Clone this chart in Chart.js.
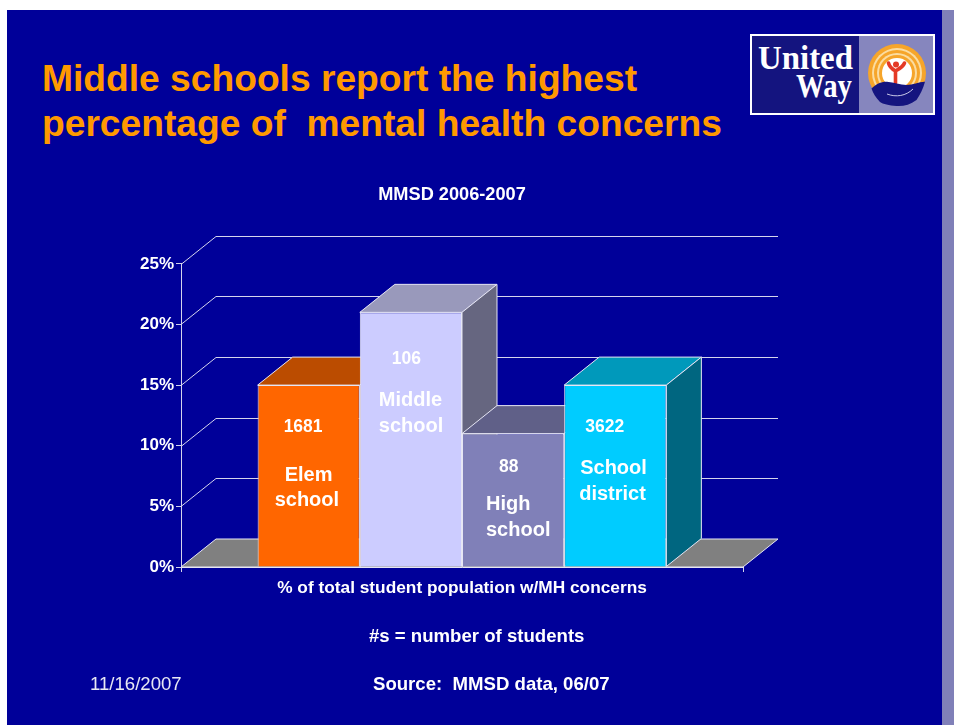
<!DOCTYPE html>
<html lang="en">
<head>
<meta charset="utf-8">
<title>Middle schools report the highest percentage of mental health concerns</title>
<script src="https://cdn.jsdelivr.net/npm/chart.js@4/dist/chart.umd.js"></script>
<style>
  html, body { margin: 0; padding: 0; background: #fff; }
  body { width: 954px; height: 725px; overflow: hidden; position: relative; font-family: "Liberation Sans", Arial, sans-serif; }
  #slide { position: absolute; left: 7px; top: 10px; width: 935px; height: 715px; background: #000099; }
  #strip { position: absolute; left: 942px; top: 10px; width: 12px; height: 715px; background: #8080b8; }
  #chart { position: absolute; left: 0; top: 0; }
  .t { position: absolute; white-space: pre; color: #fff; }
  #headline { left: 42px; top: 56px; font-size: 37.2px; font-weight: bold; line-height: 45px; color: #ff9900; }
  .note { font-size: 18.6px; font-weight: bold; line-height: 20px; }
  #logo { position: absolute; left: 750px; top: 34px; }
</style>
</head>
<body>
<div id="slide"></div>
<div id="strip"></div>
<div class="t" id="headline">Middle schools report the highest
percentage of  mental health concerns</div>

<svg id="logo" width="185" height="81" viewBox="0 0 185 81" xmlns="http://www.w3.org/2000/svg">
  <defs>
    <clipPath id="rainbow"><rect x="110" y="0" width="75" height="54"/></clipPath>
  </defs>
  <rect x="0" y="0" width="185" height="81" fill="#fff"/>
  <rect x="2" y="2" width="181" height="77" fill="#8686be"/>
  <rect x="2" y="2" width="107" height="77" fill="#14147f"/>
  <text x="8" y="35" font-family="Liberation Serif, serif" font-weight="bold" font-size="33" fill="#fff" textLength="95" lengthAdjust="spacingAndGlyphs">United</text>
  <text x="46" y="63" font-family="Liberation Serif, serif" font-weight="bold" font-size="33" fill="#fff" textLength="56" lengthAdjust="spacingAndGlyphs">Way</text>
  <g clip-path="url(#rainbow)">
    <circle cx="147" cy="39" r="29" fill="#f6a52a"/>
    <circle cx="147" cy="39" r="25" fill="#fbdca0"/>
    <circle cx="147" cy="39" r="23" fill="#f6a52a"/>
    <circle cx="147" cy="39" r="20" fill="#fbdca0"/>
    <circle cx="147" cy="39" r="18" fill="#f6a52a"/>
    <circle cx="147" cy="39" r="15" fill="#fff"/>
  </g>
  <path d="M145.5 37 L145.5 49 M145.5 37 C142 35 139.5 33 138.5 29 M145.5 37 C149 35 153 33 154.5 29" stroke="#e43a26" stroke-width="3.6" stroke-linecap="round" fill="none"/>
  <circle cx="146" cy="30.5" r="3" fill="#e43a26"/>
  <path d="M121.5 54.5 C126 50 131 47.5 137 47.7 C144 48 150 51 156.5 51 C163 51 169 47.5 175 47.7 C173 55 170 61 166.5 66 C160 71 153 72.5 146.5 72 C139 71.5 133 70 130 68 C126 64 123 59 121.5 54.5 Z" fill="#14147f"/>
  <path d="M137 60 C146 63.5 156 62 163 55" stroke="#c8c8e8" stroke-width="1" fill="none"/>
</svg>

<canvas id="chart" width="904" height="725"></canvas>

<div class="t note" id="foot1" style="left:369px;top:626px;">#s = number of students</div>
<div class="t note" id="foot2" style="left:373px;top:674px;">Source:  MMSD data, 06/07</div>
<div class="t" id="stamp" style="left:90px;top:674px;font-size:18.6px;line-height:20px;color:#e8e8f4;">11/16/2007</div>

<script>
// Share of students with mental health concerns, by school level (percent)
const groupLabel = ['% of total student population w/MH concerns'];
const schoolTypes = ['Elem school', 'Middle school', 'High school', 'School district'];
const percentValues = [15, 21, 11, 15];
const studentCounts = ['1681', '106', '88', '3622'];
const percentTicks = [0, 5, 10, 15, 20, 25];

// Face colours for each column: front, top, side
const frontColors = ['#ff6600', '#ccccff', '#8080b8', '#00ccff'];
const topColors = ['#bb4c00', '#9999bb', '#606088', '#0099bb'];
const sideColors = ['#994000', '#666680', '#505070', '#006680'];

const lineColor = '#d4d4ec';
const edgeColor = '#e6e6f4';
const depthX = 35;
const depthY = 28;
const titleShift = 20;

// Where each column's captions sit, relative to its top-left baseline corner
const captionSpots = [
  { count: [26, -139], lines: [[27, -91], [17, -66]] },
  { count: [32, -207], lines: [[19, -166], [19, -140]] },
  { count: [37, -99], lines: [[24, -62], [24, -36]] },
  { count: [21, -139], lines: [[16, -98], [15, -72]] }
];

function poly(ctx, pts, fill, stroke) {
  ctx.beginPath();
  pts.forEach((p, i) => (i ? ctx.lineTo(p[0], p[1]) : ctx.moveTo(p[0], p[1])));
  ctx.closePath();
  if (fill) { ctx.fillStyle = fill; ctx.fill(); }
  if (stroke) { ctx.strokeStyle = stroke; ctx.lineWidth = 1; ctx.stroke(); }
}

// Gives the flat chart its receding back wall, floor and column depth
const depthPlugin = {
  id: 'depth',
  afterLayout(chart) {
    // Centre the heading over the slide's content column rather than the plot
    chart.titleBlock.left += titleShift;
    chart.titleBlock.right += titleShift;
  },
  beforeDatasetsDraw(chart) {
    const { ctx, chartArea: a, scales: { y } } = chart;
    ctx.save();
    ctx.lineWidth = 1;
    ctx.strokeStyle = lineColor;
    percentTicks.forEach(v => {
      if (v === 0) return;
      const py = Math.round(y.getPixelForValue(v)) + 0.5;
      ctx.beginPath();
      ctx.moveTo(a.left, py);
      ctx.lineTo(a.left + depthX, py - depthY);
      ctx.lineTo(a.right + depthX, py - depthY);
      ctx.stroke();
    });
    const base = y.getPixelForValue(0);
    poly(ctx, [[a.left, base], [a.left + depthX, base - depthY], [a.right + depthX, base - depthY], [a.right, base]], '#808080', edgeColor);
    percentValues.forEach((_, i) => {
      const bar = chart.getDatasetMeta(i).data[0];
      const l = bar.x - bar.width / 2, r = bar.x + bar.width / 2, t = bar.y, b = bar.base;
      poly(ctx, [[l, t], [l + depthX, t - depthY], [r + depthX, t - depthY], [r, t]], topColors[i], edgeColor);
      poly(ctx, [[r, t], [r + depthX, t - depthY], [r + depthX, b - depthY], [r, b]], sideColors[i], edgeColor);
    });
    ctx.restore();
  },
  afterDatasetsDraw(chart) {
    const { ctx } = chart;
    ctx.save();
    ctx.fillStyle = '#ffffff';
    ctx.textAlign = 'left';
    ctx.textBaseline = 'middle';
    percentValues.forEach((_, i) => {
      const bar = chart.getDatasetMeta(i).data[0];
      const l = bar.x - bar.width / 2, b = bar.base;
      const spot = captionSpots[i];
      ctx.font = 'bold 17.5px "Liberation Sans", Arial, sans-serif';
      ctx.fillText(studentCounts[i], l + spot.count[0], b + spot.count[1]);
      ctx.font = 'bold 20px "Liberation Sans", Arial, sans-serif';
      schoolTypes[i].split(' ').forEach((word, k) => {
        ctx.fillText(word, l + spot.lines[k][0], b + spot.lines[k][1]);
      });
    });
    ctx.restore();
  }
};

new Chart(document.getElementById('chart'), {
  type: 'bar',
  plugins: [depthPlugin],
  data: {
    labels: groupLabel,
    datasets: schoolTypes.map((name, i) => ({
      label: name,
      data: [percentValues[i]],
      backgroundColor: frontColors[i],
      borderColor: edgeColor,
      borderWidth: 1,
      categoryPercentage: 408 / 561,
      barPercentage: 1
    }))
  },
  options: {
    responsive: false,
    animation: false,
    layout: { padding: { left: 121, right: 161, top: 0, bottom: 118 } },
    plugins: {
      legend: { display: false },
      tooltip: { enabled: false },
      title: {
        display: true,
        text: 'MMSD 2006-2007',
        color: '#ffffff',
        font: { family: '"Liberation Sans", Arial, sans-serif', size: 18.2, weight: 'bold' },
        padding: { top: 184, bottom: 58 }
      }
    },
    scales: {
      x: {
        grid: { drawOnChartArea: false, drawTicks: true, tickLength: 5, color: lineColor },
        border: { color: edgeColor },
        ticks: {
          color: '#ffffff',
          padding: 6,
          maxRotation: 0,
          font: { family: '"Liberation Sans", Arial, sans-serif', size: 17.3, weight: 'bold' }
        },
        afterFit(s) { s.height = 40; }
      },
      y: {
        min: 0,
        max: 25,
        grid: { drawOnChartArea: false, drawTicks: true, tickLength: 5, color: lineColor },
        border: { color: lineColor },
        afterBuildTicks(s) { s.ticks = percentTicks.map(value => ({ value })); },
        ticks: {
          color: '#ffffff',
          padding: 2,
          callback: v => v + '%',
          font: { family: '"Liberation Sans", Arial, sans-serif', size: 17, weight: 'bold' }
        },
        afterFit(s) { s.width = 60; }
      }
    }
  }
});
</script>
</body>
</html>
